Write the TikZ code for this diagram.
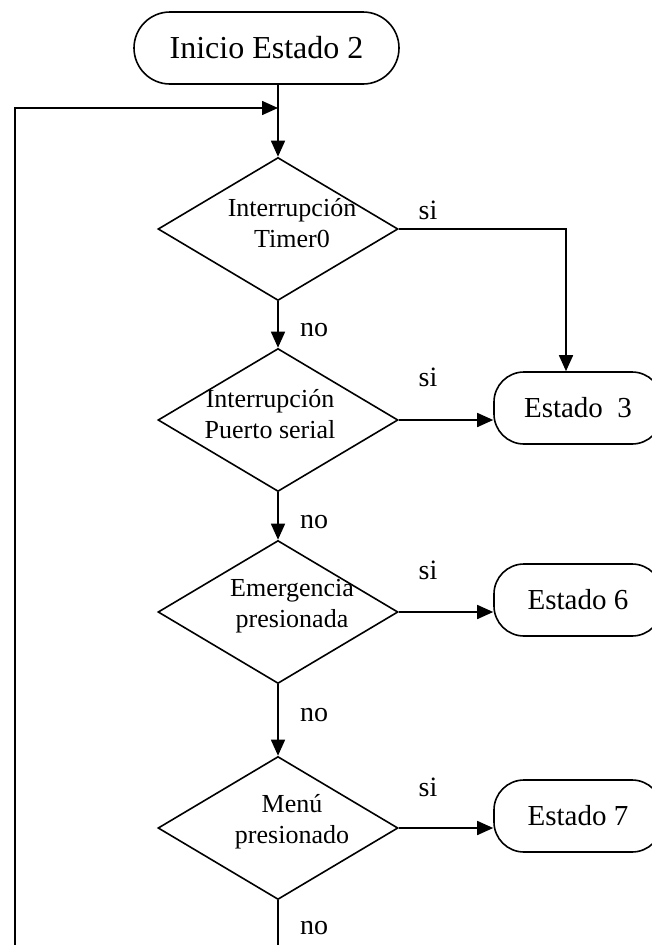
\documentclass[tikz,border=0pt]{standalone}
\usepackage{fontspec}
\setmainfont{Liberation Serif}
\usetikzlibrary{arrows.meta, positioning, shapes.geometric, calc}
\tikzset{
  every picture/.style={line width=1.6pt},
  terminal/.style={draw, rounded corners=#1, minimum height=72pt, inner sep=0pt, font=\fontsize{29}{33}\selectfont},
  terminal/.default=30pt,
  decision/.style={draw, diamond, aspect=1.68, minimum width=240pt, minimum height=143pt, inner sep=0pt},
  dtext/.style={align=center, font=\fontsize{26}{31.5}\selectfont},
  arrow/.style={-{Triangle[length=16pt, width=14pt]}},
  tag/.style={font=\fontsize{28}{30}\selectfont, inner sep=0pt},
}
\begin{document}
\begin{tikzpicture}[x=1pt, y=-1pt]
  \useasboundingbox (0,0) rectangle (652,945);
  \clip (0,0) rectangle (652,945);
  % start
  \node[terminal=36pt, minimum width=265pt, font=\fontsize{32}{36}\selectfont] (start) at (266.5,48) {Inicio Estado 2};
  % decisions
  \node[decision, label={[dtext, xshift=14pt, yshift=6pt]center:Interrupción\\Timer0}] (d1) at (278,229) {};
  \node[decision, label={[dtext, xshift=-8pt, yshift=6pt]center:Interrupción\\Puerto serial}] (d2) at (278,420) {};
  \node[decision, label={[dtext, xshift=14pt, yshift=6pt]center:Emergencia\\presionada}] (d3) at (278,612) {};
  \node[decision, label={[dtext, xshift=14pt, yshift=6.5pt]center:Menú\\presionado}] (d4) at (278,828) {};
  % states
  \node[terminal, minimum width=168pt] (e3) at (578,408) {Estado~~3};
  \node[terminal, minimum width=168pt] (e6) at (578,600) {Estado 6};
  \node[terminal, minimum width=168pt] (e7) at (578,816) {Estado 7};
  % si / no
  \node[tag] (si1) at (428,210) {si};
  \node[tag] (si2) at (428,377) {si};
  \node[tag] (si3) at (428,570) {si};
  \node[tag] (si4) at (428,787) {si};
  \node[tag] (no1) at (314,330) {no};
  \node[tag] (no2) at (314,522) {no};
  \node[tag] (no3) at (314,715) {no};
  \node[tag] (no4) at (314,928) {no};
  \coordinate (merge) at (278,108);
  \coordinate (loopend) at (15,945);
  \coordinate (exit) at (278,945);
  % connectors
  \draw (start.south -| d1.north) -- (merge);
  \draw[arrow] (merge) -- (d1.north);
  \draw[arrow] (loopend) |- (merge);
  \draw[arrow] (d1.east) -| ([xshift=-12pt]e3.north);
  \draw[arrow] (d1.south) -- (d2.north);
  \draw[arrow] (d2.east) -- (d2.east -| e3.west);
  \draw[arrow] (d2.south) -- (d3.north);
  \draw[arrow] (d3.east) -- (d3.east -| e6.west);
  \draw[arrow] (d3.south) -- (d4.north);
  \draw[arrow] (d4.east) -- (d4.east -| e7.west);
  \draw (d4.south) -- (exit);
\end{tikzpicture}
\end{document}
